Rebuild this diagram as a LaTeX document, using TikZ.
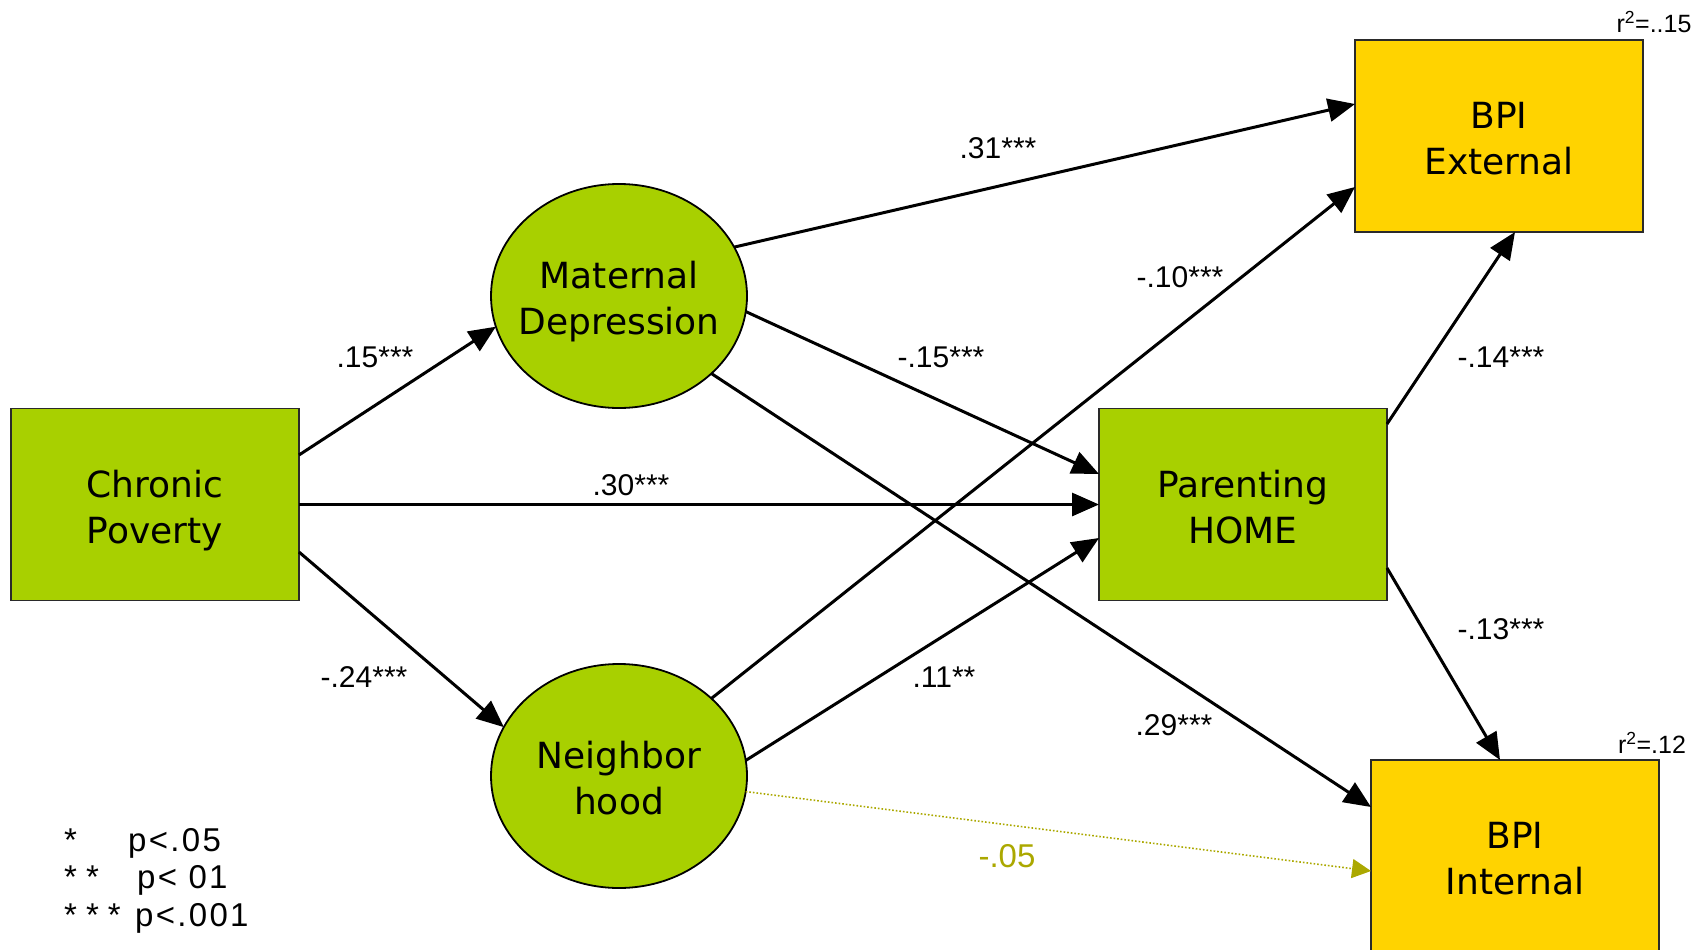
\documentclass[tikz,border=0pt]{standalone}
\usepackage{fontspec}
\usetikzlibrary{arrows.meta,shapes.geometric}
\newfontfamily\vfont{DejaVu Sans}
\newfontfamily\afont{Liberation Sans}
\newfontfamily\legfont[LetterSpace=7]{Liberation Sans}
\definecolor{cgreen}{HTML}{A8D000}
\definecolor{cgold}{HTML}{FFD300}
\definecolor{colive}{HTML}{ABA800}
\definecolor{cborder}{HTML}{2A2A2A}
\begin{document}
\begin{tikzpicture}[x=1pt,y=-1pt,
  varbox/.style={rectangle, draw=cborder, line width=1.8pt, minimum width=288pt, minimum height=192pt,
    inner sep=0pt, outer sep=0pt, align=center, text height=77pt, text depth=0pt,
    font=\vfont\fontsize{36}{46}\selectfont},
  latent/.style={ellipse, draw=black, line width=1.8pt, fill=cgreen, minimum width=256pt, minimum height=224pt,
    inner sep=0pt, outer sep=0pt, align=center, text height=77pt, text depth=0pt,
    font=\vfont\fontsize{36}{46}\selectfont},
  path/.style={line width=3pt, -{Triangle[length=27pt,width=23pt]}},
  weak/.style={line width=1.6pt, colive, dotted, -{Triangle[length=19pt,width=19pt]}},
  lbl/.style={font=\afont\fontsize{30}{36}\selectfont, inner sep=0pt},
  rsq/.style={font=\afont\fontsize{25}{29}\selectfont, inner sep=0pt},
  leg/.style={font=\legfont\fontsize{33}{38}\selectfont, inner sep=0pt, anchor=west}
]
\useasboundingbox (0,0) rectangle (1705,950);
\clip (0,0) rectangle (1705,950);

% nodes
\node[varbox, fill=cgreen] (cp) at (155,504.5) {Chronic\\Poverty};
\node[varbox, fill=cgreen] (ph) at (1243,504.5) {Parenting\\HOME};
\node[varbox, fill=cgold] (be) at (1499,136) {BPI\\External};
\node[varbox, fill=cgold] (bi) at (1515,856) {BPI\\Internal};
\node[latent] (md) at (619,296) {\makebox[0pt]{Maternal}\\\makebox[0pt]{Depression}};
\node[latent] (nh) at (619,776) {\makebox[0pt]{Neighbor}\\\makebox[0pt]{hood}};

% connectors
\draw[path] ([yshift=49.5pt]cp.east) -- (md.194);
\draw[path] (cp.east) -- (ph.west);
\draw[path] ([yshift=-47.5pt]cp.east) -- (nh.157);
\draw[path] (md.23) -- ([yshift=32pt]be.west);
\draw[path] (md.-7.6) -- ([yshift=30.5pt]ph.west);
\draw[path] (md.-40.5) -- ([yshift=49pt]bi.west);
\draw[path] (nh.40) -- ([yshift=-51pt]be.west);
\draw[path] (nh.7.6) -- ([yshift=-33.5pt]ph.west);
\draw[weak] (nh.-7.6) -- ([yshift=-15pt]bi.west);
\draw[path] ([yshift=80.5pt]ph.east) -- ([xshift=16pt]be.south);
\draw[path] ([yshift=-63.5pt]ph.east) -- ([xshift=-15pt]bi.north);

% coefficient labels
\node[lbl] (l31) at (998,148) {.31***};
\node[lbl] (l15) at (375,357) {.15***};
\node[lbl] (l30) at (631,485) {.30***};
\node[lbl] (l24) at (364,677) {-.24***};
\node[lbl] (l10) at (1180,277) {-.10***};
\node[lbl] (l15b) at (941,357) {-.15***};
\node[lbl] (l11) at (944,677) {.11**};
\node[lbl] (l29) at (1174,725) {.29***};
\node[lbl] (l14) at (1501,357) {-.14***};
\node[lbl] (l13) at (1501,629) {-.13***};
\node[lbl, text=colive, font=\afont\fontsize{33}{38}\selectfont] (l05) at (1007,856) {-.05};

% r-squared
\node[rsq] (r1) at (1654,22) {r\textsuperscript{2}=..15};
\node[rsq] (r2) at (1652,743) {r\textsuperscript{2}=.12};

% legend
\node[leg] (g1) at (64,843.5) {\makebox[64pt][l]{*}p<.05};
\node[leg] (g2) at (64,880.5) {\makebox[73pt][l]{*\hspace{9pt}*}p< 01};
\node[leg] (g3) at (64,918.5) {\makebox[71pt][l]{*\hspace{9pt}*\hspace{9pt}*}p<.001};
\end{tikzpicture}
\end{document}
